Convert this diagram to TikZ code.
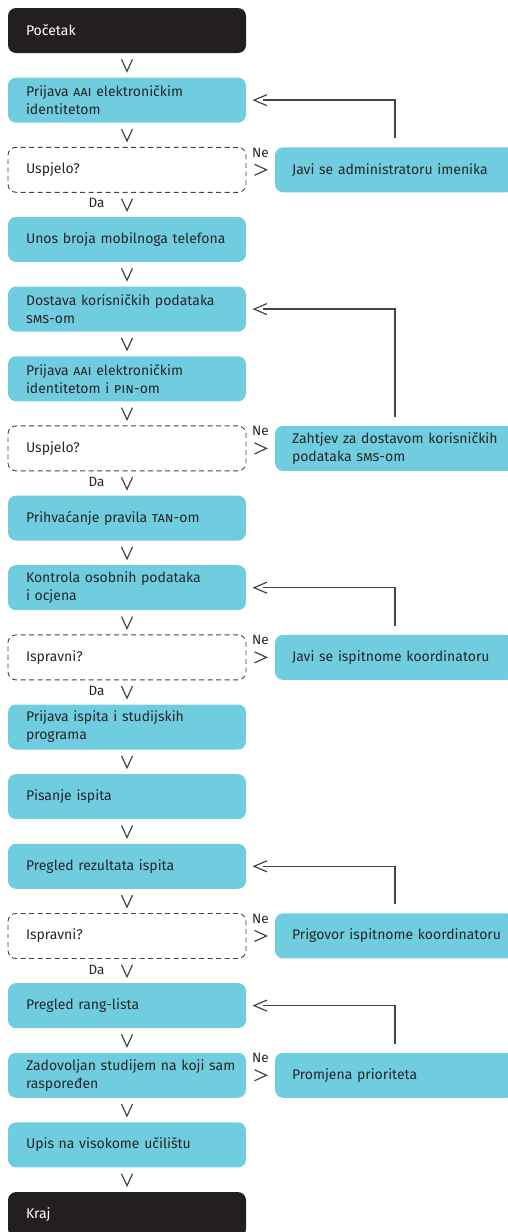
\documentclass[tikz,border=0pt]{standalone}
\usepackage{fontspec}
\setmainfont{Fira Sans}
\usetikzlibrary{positioning,calc}

\definecolor{boxcyan}{HTML}{70CDE0}
\definecolor{termblack}{HTML}{231F20}
\definecolor{txtgray}{HTML}{262626}
\definecolor{linegray}{HTML}{444444}

\begin{document}
\begin{tikzpicture}[x=1pt,y=1pt,
  box/.style={rectangle, rounded corners=8pt, fill=boxcyan, text=txtgray,
    minimum height=45pt, text width=202pt, inner xsep=18pt, inner ysep=0pt,
    outer sep=0pt, align=left, font=\fontsize{14}{18}\selectfont},
  term/.style={box, fill=termblack, text=white},
  ask/.style={box, fill=none, draw=linegray, line width=0.9pt,
    dash pattern=on 5pt off 3.5pt, outer sep=0pt},
  side/.style={box, text width=206pt, inner xsep=17pt},
  chev/.style={draw=linegray, line width=1.2pt},
  link/.style={draw=linegray, line width=1.4pt},
  lbl/.style={font=\fontsize{13.5}{13.5}\selectfont, text=txtgray, inner sep=0pt},
  node distance=24.65pt]
\useasboundingbox (0,0) rectangle (508,-1232);

% main column
\node[term] (start) at (127,-30.5) {Početak};
\node[box, below=of start] (login) {Prijava \textsc{aai} elektroničkim\\identitetom};
\node[ask, below=of login] (ok1) {Uspjelo?};
\node[box, below=of ok1] (phone) {Unos broja mobilnoga telefona};
\node[box, below=of phone] (sms) {Dostava korisničkih podataka\\\textsc{sms}-om};
\node[box, below=of sms] (pin) {Prijava \textsc{aai} elektroničkim\\identitetom i \textsc{pin}-om};
\node[ask, below=of pin] (ok2) {Uspjelo?};
\node[box, below=of ok2] (tan) {Prihvaćanje pravila \textsc{tan}-om};
\node[box, below=of tan] (check) {Kontrola osobnih podataka\\i ocjena};
\node[ask, below=of check] (ok3) {Ispravni?};
\node[box, below=of ok3] (apply) {Prijava ispita i studijskih\\programa};
\node[box, below=of apply] (exam) {Pisanje ispita};
\node[box, below=of exam] (result) {Pregled rezultata ispita};
\node[ask, below=of result] (ok4) {Ispravni?};
\node[box, below=of ok4] (rank) {Pregled rang-lista};
\node[box, below=of rank] (happy) {\mbox{Zadovoljan studijem na koji sam}\\raspoređen};
\node[box, below=of happy] (enrol) {Upis na visokome učilištu};
\node[term, below=of enrol] (end) {Kraj};

% side column
\node[side, right=29pt of ok1] (admin) {Javi se administratoru imenika};
\node[side, right=29pt of ok2] (resend) {\mbox{Zahtjev za dostavom korisničkih}\\podataka \textsc{sms}-om};
\node[side, right=29pt of ok3] (coord) {Javi se ispitnome koordinatoru};
\node[side, right=29pt of ok4] (appeal) {\mbox{Prigovor ispitnome koordinatoru}};
\node[side, right=29pt of happy] (prio) {Promjena prioriteta};

% V between boxes
\foreach \a/\b in {start/login, login/ok1, ok1/phone, phone/sms, sms/pin,
    pin/ok2, ok2/tan, tan/check, check/ok3, ok3/apply, apply/exam,
    exam/result, result/ok4, ok4/rank, rank/happy, happy/enrol, enrol/end}
  \draw[chev] ($(\a.south)!.5!(\b.north)$) +(-5.5,6) -- +(0,-6) -- +(5.5,6);

% Ne branches
\foreach \a/\b in {ok1/admin, ok2/resend, ok3/coord, ok4/appeal, happy/prio} {
  \draw[chev] ($(\a.east)!.5!(\b.west)$) +(-6,5.5) -- +(6,0) -- +(-6,-5.5);
  \node[lbl] (ne-\a) at ($(\a.east)!.5!(\b.west)+(0,17)$) {Ne};
}
\foreach \a in {ok1, ok2, ok3, ok4}
  \node[lbl] (da-\a) at ([xshift=-30.5pt,yshift=-11pt]\a.south) {Da};

% back lines
\foreach \r/\t in {admin/login, resend/sms, coord/check, appeal/result, prio/rank} {
  \draw[link] ([yshift=9pt]\r.north) |- ([xshift=17pt]\t.east);
  \draw[chev] ([xshift=8pt]\t.east) +(13,5.5) -- +(0,0) -- +(13,-5.5);
}
\end{tikzpicture}
\end{document}
